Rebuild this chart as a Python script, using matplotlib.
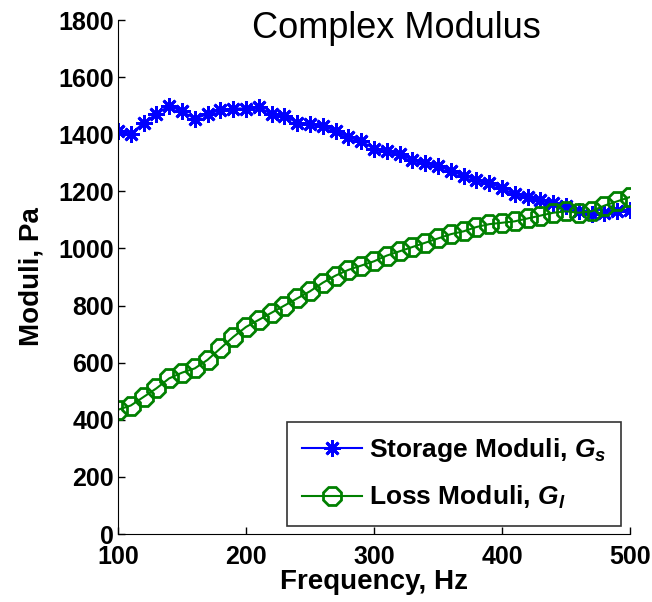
import numpy as np
import matplotlib
matplotlib.use("Agg")
import matplotlib.pyplot as plt

plt.rcParams['font.family'] = ['Liberation Sans', 'DejaVu Sans']
plt.rcParams['mathtext.fontset'] = 'custom'
plt.rcParams['mathtext.it'] = 'Liberation Sans:bold:italic'
plt.rcParams['mathtext.rm'] = 'Liberation Sans:bold'

# Frecuencias y módulos
freq = np.arange(100, 501, 10)
storage = [1410, 1400, 1440, 1470, 1500, 1480, 1455, 1470, 1485, 1490,
           1490, 1495, 1470, 1465, 1440, 1435, 1430, 1410, 1390, 1375,
           1350, 1340, 1330, 1310, 1300, 1290, 1270, 1255, 1240, 1230,
           1210, 1190, 1180, 1170, 1160, 1150, 1130, 1120, 1125, 1130, 1135]
loss = [435, 450, 480, 510, 545, 565, 580, 610, 650, 690,
        725, 750, 775, 800, 825, 850, 880, 905, 925, 940,
        955, 975, 990, 1005, 1020, 1035, 1050, 1060, 1075, 1085,
        1090, 1095, 1105, 1115, 1125, 1130, 1125, 1130, 1150, 1165, 1180]

fig = plt.figure(figsize=(6.52, 6.02), dpi=100)
ax = fig.add_axes([118/652, 1 - 534/602, 512/652, 514/602])

ax.plot(freq, storage, color='blue', marker=(8, 2, 0), markersize=12,
        markeredgewidth=2, linewidth=1.5, label=r'Storage Moduli, $G_s$')
ax.plot(freq, loss, color='green', marker=(8, 0, 22.5), markersize=14,
        linewidth=1.5, markerfacecolor='none', markeredgewidth=2,
        label=r'Loss Moduli, $G_l$')

ax.set_xlim(100, 500)
ax.set_ylim(0, 1800)
ax.set_xticks([100, 200, 300, 400, 500])
ax.set_yticks(range(0, 1801, 200))
ax.tick_params(direction='in', length=5, labelsize=18, width=1)
ax.tick_params(axis='x', pad=8)
ax.tick_params(axis='y', pad=3)
for lbl in ax.get_xticklabels() + ax.get_yticklabels():
    lbl.set_fontweight('bold')
ax.spines['top'].set_visible(False)
ax.spines['right'].set_visible(False)

ax.set_xlabel('Frequency, Hz', fontsize=20, fontweight='bold', labelpad=0)
ax.set_ylabel('Moduli, Pa', fontsize=20, fontweight='bold', labelpad=10)

leg = ax.legend(loc='lower right', prop={'size': 19, 'weight': 'bold'},
                frameon=True, fancybox=False, edgecolor='black',
                handlelength=2.3, handletextpad=0.25, borderpad=0.55,
                labelspacing=0.75, borderaxespad=0,
                bbox_to_anchor=(0.982, 0.016))
leg.get_frame().set_linewidth(1.2)

fig.text(396/652, 1 - 28/602, 'Complex Modulus', fontsize=26,
         ha='center', va='center')

fig.savefig('out.png', dpi=100)
